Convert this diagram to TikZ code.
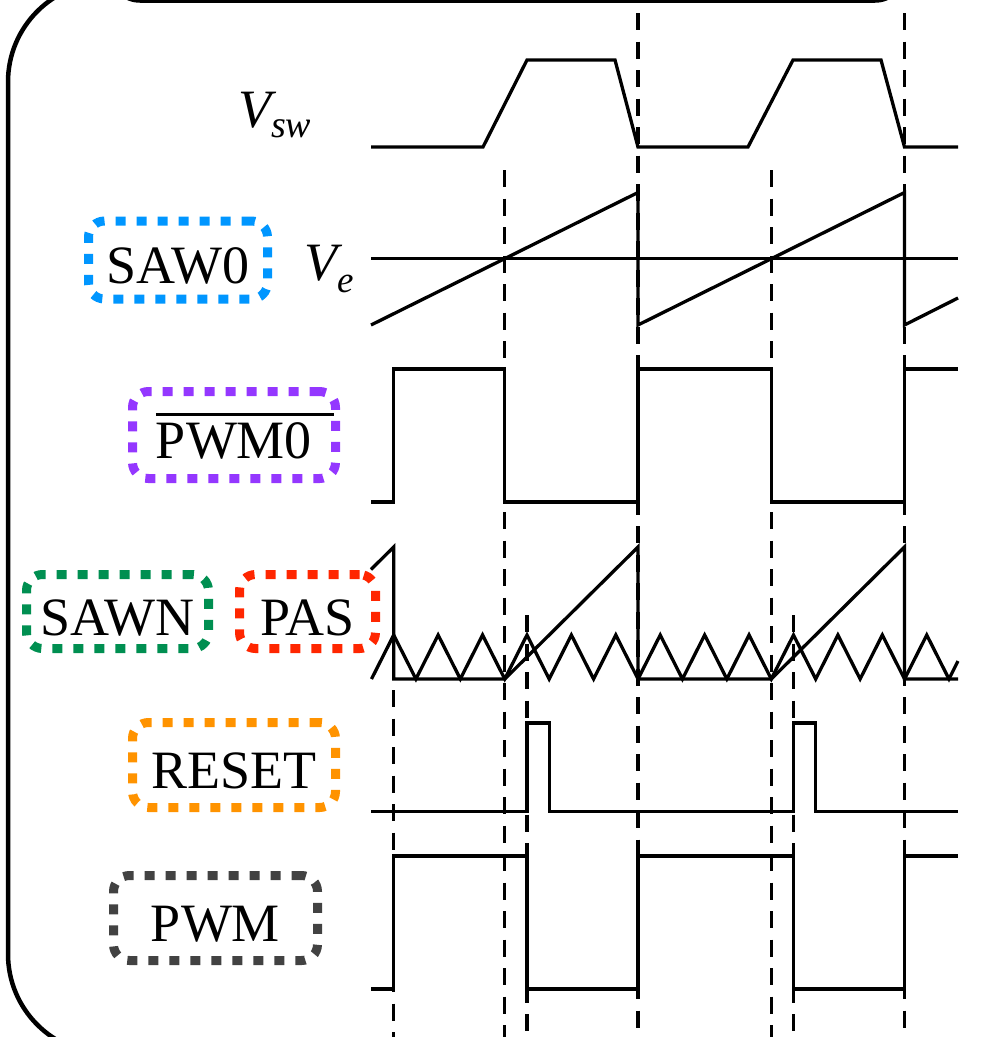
\documentclass[tikz,border=0pt]{standalone}
\usepackage{fontspec}
\setmainfont{Liberation Serif}
\usetikzlibrary{positioning}
\definecolor{aqua}{RGB}{0,150,255}
\definecolor{grape}{RGB}{148,55,255}
\definecolor{moss}{RGB}{0,143,81}
\definecolor{maraschino}{RGB}{255,38,0}
\definecolor{tangerine}{RGB}{255,147,0}
\definecolor{tungsten}{RGB}{66,66,66}

\begin{document}
\begin{tikzpicture}[x=1pt,y=-1pt,
  wave/.style={line width=3.3pt},
  marker/.style={line width=3.1pt,dash pattern=on 17pt off 11.5pt},
  tag/.style={draw=#1,line width=9pt,dash pattern=on 10pt off 11pt,
    rounded corners=16pt,inner sep=0pt,text height=47pt,text depth=0pt,
    font=\fontsize{54}{60}\selectfont}]
  \useasboundingbox (0,0) rectangle (982,1037);
  \clip (0,0) rectangle (982,1037);

  % frames
  \draw[line width=4.5pt,rounded corners=100pt] (8,-18) rectangle (1100,1054);
  \draw[line width=4.5pt,rounded corners=30pt] (110,-200) rectangle (905,0.5);

  % labels
  \node[anchor=base west,inner sep=0pt,font=\fontsize{54}{60}\selectfont\itshape]
    (vsw) at (238,127) {V\raisebox{-10pt}{\fontsize{38}{40}\selectfont sw}};
  \node[anchor=base west,inner sep=0pt,font=\fontsize{54}{60}\selectfont\itshape]
    (ve) at (304,280) {V\raisebox{-12pt}{\fontsize{37}{40}\selectfont e}};
  \node[tag=aqua,minimum width=179pt,minimum height=78pt] (sawzero) at (178,260) {SAW0};
  \node[tag=grape,minimum width=203pt,minimum height=87pt] (pwmzero) at (234,435)
    {\rlap{\rule[43pt]{178pt}{2.8pt}}PWM0};
  \node[tag=moss,minimum width=182pt,minimum height=74pt] (sawn) at (117.5,611.5) {SAWN};
  \node[tag=maraschino,minimum width=136pt,minimum height=74pt] (pas) at (307.5,611.5) {PAS};
  \node[tag=tangerine,minimum width=203pt,minimum height=85pt] (reset) at (234,765) {RESET};
  \node[tag=tungsten,minimum width=204pt,minimum height=85pt] (pwm) at (215.5,918) {PWM};

  % waveforms
  \draw[wave] (371,147) -- (483,147) -- (527,60) -- (615,60) -- (638,147)
    -- (748,147) -- (793,60) -- (881,60) -- (904.5,147) -- (958,147);
  \draw[wave] (371,258.5) -- (958,258.5);
  \draw[wave] (371,325) -- (638,192.5) -- (638,325) -- (904.5,192.5) -- (904.5,325) -- (958,298);
  \draw[wave] (371,502) -- (393.7,502) -- (393.7,369) -- (504.75,369) -- (504.75,502)
    -- (638,502) -- (638,369) -- (771.25,369) -- (771.25,502) -- (904.5,502)
    -- (904.5,369) -- (958,369);
  \draw[wave] (371,569.5) -- (393.7,547) -- (393.7,679) -- (504.75,679) -- (638,547)
    -- (638,679) -- (771.25,679) -- (904.5,547) -- (904.5,679) -- (958,679);
  \draw[wave] (371.5,679) \foreach \k in {0,...,12} {
    -- ({393.71+44.42*\k},635) -- ({415.92+44.42*\k},679) } -- (958,661);
  \draw[wave] (371,811.5) -- (527,811.5) -- (527,723) -- (549.2,723) -- (549.2,811.5)
    -- (793.5,811.5) -- (793.5,723) -- (815.7,723) -- (815.7,811.5) -- (958,811.5);
  \draw[wave] (371,989) -- (393.7,989) -- (393.7,856) -- (527,856) -- (527,989)
    -- (638,989) -- (638,856) -- (793.5,856) -- (793.5,989) -- (904.5,989)
    -- (904.5,856) -- (958,856);

  % timing marks
  \foreach \xx/\ytop in {393.7/690,504.75/170,771.25/170,527/615,793.5/615,638/13,904.5/13}
    \draw[marker] (\xx,\ytop) -- (\xx,1040);
\end{tikzpicture}
\end{document}
